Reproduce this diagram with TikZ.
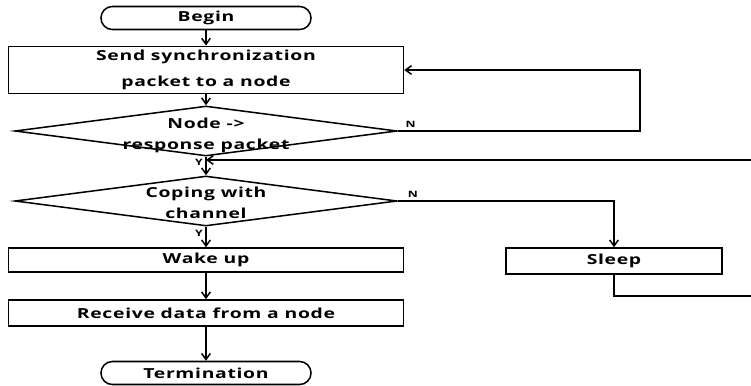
\documentclass[tikz,border=0pt]{standalone}
\usepackage{fontspec}
\setmainfont{Open Sans}[FakeStretch=1.4,LetterSpace=5]
\usetikzlibrary{shapes.geometric,arrows.meta,positioning}

\tikzset{
    terminal/.style={rectangle,draw,rounded corners=3.4mm,minimum width=6.3cm,minimum height=0.69cm},
    process/.style={rectangle,draw,align=center,minimum width=11.85cm},
    decision/.style={diamond,draw,inner sep=0pt,minimum width=11.46cm,minimum height=1.5cm},
    caption/.style={align=center,inner sep=0pt},
    yn/.style={font=\bfseries\fontsize{7.5}{8}\selectfont,inner sep=2pt},
    arr/.style={-{Straight Barb[length=1.8mm,width=2.6mm]}}
}

\begin{document}
\begin{tikzpicture}[x=0.03cm,y=-0.03cm,line width=1.3pt,
    font=\bfseries\fontsize{11.8}{18}\selectfont]
    \useasboundingbox (0,0) rectangle (751,385);

    \node[terminal] (begin) at (206,18) {Begin};
    \node[process,minimum height=1.2cm] (send) at (206,70) {Send synchronization\\[4pt]packet to a node};
    \node[decision] (resp) at (206,131) {};
    \node[caption] (resptext) at (206,135) {Node ->\\response packet};
    \node[decision] (chan) at (206,201) {};
    \node[caption] (chantext) at (206,203) {Coping with\\channel};
    \node[process,minimum height=0.72cm] (wake) at (206,260) {Wake up};
    \node[process,minimum width=6.48cm,minimum height=0.78cm] (sleep) at (614,261) {Sleep};
    \node[process,minimum height=0.78cm] (recv) at (206,313) {Receive data from a node};
    \node[terminal] (term) at (206,373) {Termination};

    \coordinate (nloop) at (640,131);
    \coordinate (nloopup) at (640,70);
    \coordinate (join) at (206,160);
    \coordinate (sleepdown) at (614,296);
    \coordinate (rightdown) at (754,296);
    \coordinate (rightup) at (754,160);

    \begin{scope}[every path/.style={arr}]
        \path (begin) edge (send);
        \path (send) edge (resp);
        \path (resp) edge node[yn,left,pos=0.3] (yes1) {Y} (chan);
        \path (chan) edge node[yn,left,pos=0.32] (yes2) {Y} (wake);
        \path (wake) edge (recv);
        \path (recv) edge (term);
    \end{scope}
    \draw[arr] (resp.east) node[yn,above right,xshift=4pt] (no1) {N} -- (nloop) -- (nloopup) -- (send.east);
    \draw[arr] (chan.east) node[yn,above right,xshift=6pt] (no2) {N} -| (sleep.north);
    \draw[arr] (sleep.south) -- (sleepdown) -- (rightdown) -- (rightup) -- (join);
\end{tikzpicture}
\end{document}
